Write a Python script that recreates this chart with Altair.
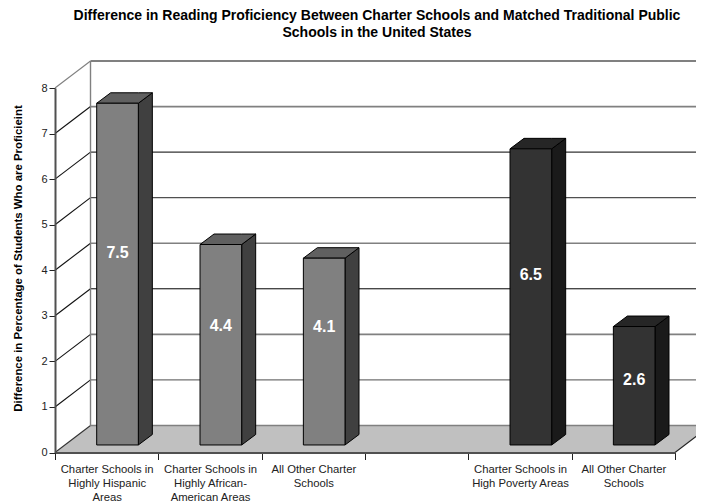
import altair as alt
import pandas as pd

# values
categories = ["Charter Schools in|Highly Hispanic|Areas",
              "Charter Schools in|Highly African-|American Areas",
              "All Other Charter|Schools",
              " ",
              "Charter Schools in|High Poverty Areas",
              "All Other Charter|Schools "]
bar_slots = [0, 1, 2, 4, 5]
bar_values = [7.5, 4.4, 4.1, 6.5, 2.6]
label_heights = [4.38, 2.77, 2.75, 3.9, 1.6]
front_colors = ["#808080", "#808080", "#808080", "#333333", "#333333"]
side_colors = ["#404040", "#404040", "#404040", "#1a1a1a", "#1a1a1a"]
top_colors = ["#606060", "#606060", "#606060", "#262626", "#262626"]
grid_levels = [0, 1, 2, 3, 4, 5, 6, 7, 8]
grid_colors = ["#808080", "#707070", "#808080", "#000000", "#808080", "#505050", "#000000", "#808080", "#808080"]
grid_widths = [1.6, 1.4, 1.6, 1, 1.6, 1.4, 1, 1.8, 1.8]
diag_colors = ["#333333", "#111111", "#111111", "#111111", "#111111", "#111111", "#111111", "#111111", "#808080"]

# chart depth, in axis units (x: one category = 1; y: one tick = 1)
DX, DY = 0.3436, 0.593
BAR_DX, BAR_DY = 0.1355, 0.23
BAR_Y0, BAR_W = 0.165, 0.403
BAR_X0 = 0.105 + (1 - BAR_W) / 2
XR = 6.4

xq = alt.X("x:Q", scale=alt.Scale(domain=[0, 6], nice=False), axis=None)
yq = alt.Y("y:Q", scale=alt.Scale(domain=[0, 8], nice=False),
           axis=alt.Axis(values=grid_levels, title="Difference in Percentage of Students Who are Proficieint",
                         titleFont="Liberation Sans", titleFontSize=11.4, titleFontWeight="bold", titleColor="#000000",
                         titlePadding=17, titleY=170, labelFont="Liberation Sans", labelFontSize=11, labelColor="#222222",
                         tickColor="#222222", tickSize=6, domainColor="#505050", domainWidth=2, grid=False,
                         labelPadding=2, format="d", zindex=1))

# floor
floor = pd.DataFrame({"x": [0, DX, 6, 6 + DX], "y": [0, 0, 0, DY], "y2": [0, DY, DY, DY]})
floor_layer = alt.Chart(floor).mark_area(color="#c0c0c0", opacity=1).encode(x=xq, y=yq, y2="y2:Q")

# wall lines
rows = []
for lv, gc, gw, dc in zip(grid_levels, grid_colors, grid_widths, diag_colors):
    rows.append(dict(x=DX, x2=XR, y=lv + DY, y2=lv + DY, c=gc, w=gw))
    rows.append(dict(x=0, x2=DX, y=lv, y2=lv + DY, c=dc, w=1.1))
rows.append(dict(x=DX, x2=DX, y=DY, y2=8 + DY, c="#808080", w=1.4))
rows.append(dict(x=6, x2=6 + DX, y=0, y2=DY, c="#222222", w=1.1))
lines = pd.DataFrame(rows)
line_layer = alt.Chart(lines).mark_rule().encode(
    x=xq, x2="x2:Q", y=yq, y2="y2:Q", color=alt.Color("c:N", scale=None, legend=None),
    strokeWidth=alt.StrokeWidth("w:Q", scale=None, legend=None))

# bars
front, side, top = [], [], []
for i, (s, v, fc, sc, tc) in enumerate(zip(bar_slots, bar_values, front_colors, side_colors, top_colors)):
    xl = s + BAR_X0
    xr = xl + BAR_W
    front.append(dict(x=xl, x2=xr, y=BAR_Y0, y2=BAR_Y0 + v, c=fc))
    base, vt = BAR_Y0, BAR_Y0 + v
    side += [dict(b=i, x=xr, y=base, y2=vt, c=sc),
             dict(b=i, x=xr + BAR_DX, y=base + BAR_DY, y2=vt + BAR_DY, c=sc)]
    top += [dict(b=i, x=xl, y=vt, y2=vt, c=tc),
            dict(b=i, x=xl + BAR_DX, y=vt, y2=vt + BAR_DY, c=tc),
            dict(b=i, x=xr, y=vt, y2=vt + BAR_DY, c=tc),
            dict(b=i, x=xr + BAR_DX, y=vt + BAR_DY, y2=vt + BAR_DY, c=tc)]

color_id = alt.Color("c:N", scale=None, legend=None)
side_layer = alt.Chart(pd.DataFrame(side)).mark_area(stroke="#000000", strokeWidth=1, opacity=1).encode(
    x=xq, y=yq, y2="y2:Q", color=color_id, detail="b:N")
top_layer = alt.Chart(pd.DataFrame(top)).mark_area(stroke="#000000", strokeWidth=1, opacity=1).encode(
    x=xq, y=yq, y2="y2:Q", color=color_id, detail="b:N")
front_layer = alt.Chart(pd.DataFrame(front)).mark_rect(stroke="#000000", strokeWidth=1).encode(
    x=xq, x2="x2:Q", y=yq, y2="y2:Q", color=color_id)

labels = pd.DataFrame({"x": [s + BAR_X0 + BAR_W / 2 for s in bar_slots], "y": label_heights,
                       "t": [f"{v:.1f}" for v in bar_values]})
text_layer = alt.Chart(labels).mark_text(color="#ffffff", font="Liberation Sans", fontSize=16, fontWeight="bold").encode(
    x=xq, y=yq, text="t:N")

# category axis: bands so that ticks sit between the labels
cat_df = pd.DataFrame({"cat": categories})
cat_layer = alt.Chart(cat_df).mark_rule(opacity=0).encode(
    x=alt.X("cat:N", sort=categories, title=None,
            scale=alt.Scale(domain=categories, paddingInner=0, paddingOuter=0),
            axis=alt.Axis(labelExpr="split(datum.label, '|')", labelAngle=0, labelAlign="center", labelBaseline="top",
                          labelFont="Liberation Sans", labelFontSize=11.3, labelColor="#222222", labelLineHeight=14,
                          tickBand="extent", tickColor="#222222", tickSize=7, domainColor="#505050", domainWidth=2,
                          labelPadding=4, labelOverlap=False, labelLimit=200, grid=False, zindex=1)))

chart = alt.layer(cat_layer, floor_layer, line_layer, side_layer, top_layer, front_layer, text_layer).resolve_scale(
    x="independent"
).properties(
    width=620, height=364.5,
    title=alt.Title(["Difference in Reading Proficiency Between Charter Schools and Matched Traditional Public",
                     "Schools in the United States"],
                    font="Liberation Sans", fontSize=14, fontWeight="bold", color="#000000",
                    anchor="middle", offset=20.5, dx=12, lineHeight=17),
    autosize=alt.AutoSizeParams(type="none"),
    padding={"left": 47, "top": 80, "right": 21, "bottom": 51.5},
    background="#ffffff",
).configure_view(stroke=None)

chart.save("out.html", embed_options={"renderer": "svg", "actions": False})
